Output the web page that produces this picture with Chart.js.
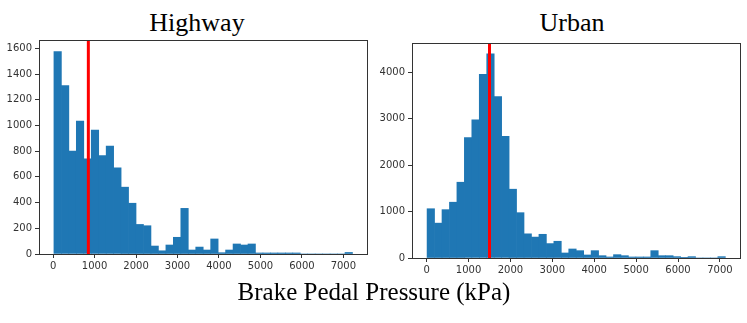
<!DOCTYPE html>
<html>
<head>
<meta charset="utf-8">
<script src="https://cdn.jsdelivr.net/npm/chart.js@4"></script>
<style>
    body { margin: 0; width: 747px; height: 323px; background: #fff; position: relative; overflow: hidden; }
    canvas { position: absolute; }
    #highway { left: 0; top: 0; }
    #urban { left: 372px; top: 0; }
    .title { position: absolute; font-family: "Liberation Serif", serif; color: #000; white-space: nowrap; transform: translateX(-50%); }
</style>
</head>
<body>
<div class="title" style="left:197px; top:8px; font-size:26px;">Highway</div>
<div class="title" style="left:572px; top:8px; font-size:26px;">Urban</div>
<canvas id="highway" width="373" height="275"></canvas>
<canvas id="urban" width="375" height="279"></canvas>
<div class="title" style="left:374px; top:278px; font-size:25px;">Brake Pedal Pressure (kPa)</div>

<script>
// histogram bins (kPa)
const highwayBinStart = 20;
const highwayBinWidth = 180;
const urbanBinStart = 10;
const urbanBinWidth = 178;

// counts per bin
const highwayCounts = [1575, 1310, 800, 1035, 740, 965, 765, 840, 670, 520,
    395, 230, 220, 62, 25, 70, 130, 355, 31, 54,
    31, 117, 10, 31, 78, 70, 78, 8, 8, 8,
    8, 8, 8, 0, 0, 0, 0, 0, 0, 12];
const urbanCounts = [1060, 750, 1040, 1200, 1630, 2590, 2970, 3950, 4390, 3470,
    2620, 1480, 975, 520, 450, 510, 310, 360, 108, 194,
    158, 65, 158, 50, 22, 72, 50, 22, 22, 22,
    158, 50, 50, 29, 5, 29, 0, 0, 0, 29];

// red marker lines
const highwayMarker = 850;
const urbanMarker = 1500;

const xTicks = [0, 1000, 2000, 3000, 4000, 5000, 6000, 7000];
const highwayYTicks = [0, 200, 400, 600, 800, 1000, 1200, 1400, 1600];
const urbanYTicks = [0, 1000, 2000, 3000, 4000];

const barColor = '#1f77b4';
const axisColor = '#333';

const frame = {
    id: 'frame',
    afterDraw(chart) {
        const { ctx, chartArea } = chart;
        ctx.save();
        ctx.strokeStyle = axisColor;
        ctx.lineWidth = 1;
        ctx.strokeRect(Math.round(chartArea.left) + 0.5, Math.round(chartArea.top) + 0.5,
            Math.round(chartArea.right - chartArea.left), Math.round(chartArea.bottom - chartArea.top));
        ctx.restore();
    }
};

function makeHist(id, counts, start, width, marker, yTicks, opts) {
    const bars = counts.map((c, i) => ({ x: start + width * (i + 0.5), y: c }));

    new Chart(document.getElementById(id), {
        type: 'bar',
        data: {
            datasets: [{
                type: 'bar',
                order: 2,
                data: bars,
                backgroundColor: barColor,
                borderWidth: 0,
                barPercentage: 1,
                categoryPercentage: 1
            }, {
                type: 'line',
                order: 1,
                data: [{ x: marker, y: 0 }, { x: marker, y: opts.yMax }],
                borderColor: '#ff0000',
                borderWidth: 3,
                pointRadius: 0
            }]
        },
        options: {
            responsive: false,
            animation: false,
            devicePixelRatio: 1,
            layout: { padding: { left: 0, right: opts.padRight, top: opts.padTop, bottom: 0 } },
            plugins: { legend: { display: false }, tooltip: { enabled: false } },
            scales: {
                x: {
                    type: 'linear',
                    offset: false,
                    min: opts.xMin,
                    max: opts.xMax,
                    afterBuildTicks: axis => { axis.ticks = xTicks.map(v => ({ value: v })); },
                    afterFit: axis => { axis.height = 21; },
                    border: { display: false },
                    grid: { offset: false, drawOnChartArea: false, drawTicks: true, tickLength: 4, color: axisColor },
                    ticks: { color: axisColor, padding: 2, maxRotation: 0, autoSkip: false,
                        callback: v => String(v),
                        font: { family: 'DejaVu Sans', size: 10 } }
                },
                y: {
                    min: 0,
                    max: opts.yMax,
                    afterBuildTicks: axis => { axis.ticks = yTicks.map(v => ({ value: v })); },
                    afterFit: axis => { axis.width = opts.yWidth; },
                    border: { display: false },
                    grid: { drawOnChartArea: false, drawTicks: true, tickLength: 4, color: axisColor },
                    ticks: { color: axisColor, padding: 3, autoSkip: false,
                        callback: v => String(v),
                        font: { family: 'DejaVu Sans', size: 10 } }
                }
            }
        },
        plugins: [frame]
    });
}

makeHist('highway', highwayCounts, highwayBinStart, highwayBinWidth, highwayMarker, highwayYTicks,
    { xMin: -340, xMax: 7570, yMax: 1665, padTop: 40, padRight: 6, yWidth: 39 });
makeHist('urban', urbanCounts, urbanBinStart, urbanBinWidth, urbanMarker, urbanYTicks,
    { xMin: -350, xMax: 7480, yMax: 4625, padTop: 43, padRight: 7, yWidth: 40 });
</script>
</body>
</html>
